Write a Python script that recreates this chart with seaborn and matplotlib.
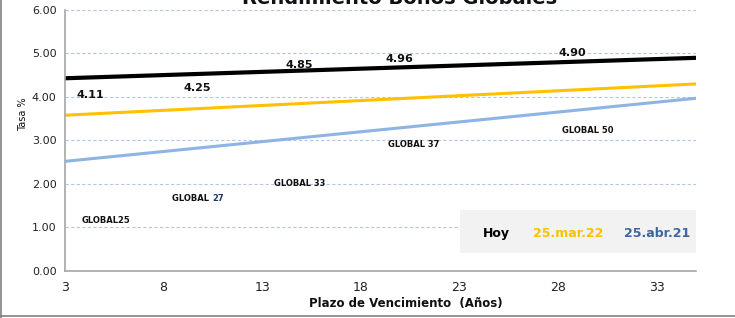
import matplotlib
matplotlib.use("Agg")
import matplotlib.pyplot as plt
from matplotlib.lines import Line2D
from matplotlib.patches import Rectangle
import seaborn as sns
import pandas as pd

# Trend lines (start / end of curve)
plazo = [3, 35]
hoy = [4.43, 4.90]
mar22 = [3.58, 4.30]
abr21 = [2.52, 3.97]

# Point labels
valor_labels = ["4.11", "4.25", "4.85", "4.96", "4.90"]
bono_labels = ["GLOBAL25", "GLOBAL 27", "GLOBAL 33", "GLOBAL 37", "GLOBAL 50"]
serie_names = ["Hoy", "25.mar.22", "25.abr.21"]

x_ticks = [3, 8, 13, 18, 23, 28, 33]
y_ticks = [0, 1, 2, 3, 4, 5, 6]

# layout only
valor_pos = [(4.3, 4.04), (9.7, 4.20), (14.9, 4.73), (19.95, 4.87), (28.75, 5.01)]
bono_pos = [(5.1, 1.15), (8.45, 1.66), (14.9, 2.01), (20.7, 2.91), (29.5, 3.23)]
leyenda_x = [24.9, 28.5, 33.05]

sns.set_style("white")
plt.rcParams["font.family"] = ["DejaVu Sans"]
plt.rcParams["text.color"] = "#111111"
plt.rcParams["xtick.color"] = "#222222"
plt.rcParams["ytick.color"] = "#222222"
plt.rcParams["axes.labelcolor"] = "#111111"

df = pd.concat([
    pd.DataFrame({"Plazo": plazo, "Tasa": hoy, "Serie": serie_names[0]}),
    pd.DataFrame({"Plazo": plazo, "Tasa": mar22, "Serie": serie_names[1]}),
    pd.DataFrame({"Plazo": plazo, "Tasa": abr21, "Serie": serie_names[2]}),
])
palette = {serie_names[0]: "#000000", serie_names[1]: "#FFC000", serie_names[2]: "#8EB4E3"}

fig = plt.figure(figsize=(7.35, 3.18), dpi=100)
ax = fig.add_axes([0.0884, 0.148, 0.8585, 0.8206])

# gridlines first so lines sit above
ax.set_axisbelow(True)
ax.yaxis.grid(True, linestyle=(0, (3, 2)), color="#B4C7E7", linewidth=0.8)

sns.lineplot(data=df, x="Plazo", y="Tasa", hue="Serie", palette=palette,
             legend=False, ax=ax, linewidth=2.2)
for ln in ax.get_lines():
    if ln.get_color() in ("#000000", "k"):
        ln.set_linewidth(3)

ax.set_xlim(3, 35)
ax.set_ylim(0, 6)
ax.set_xticks(x_ticks)
ax.set_yticks(y_ticks)
ax.set_yticklabels([f"{v:.2f}" for v in y_ticks], fontsize=8)
ax.set_xticklabels([str(v) for v in x_ticks], fontsize=9)
ax.tick_params(axis="y", length=0, pad=6)
ax.tick_params(axis="x", length=0, pad=7)

for side in ["top", "right"]:
    ax.spines[side].set_visible(False)
for side in ["left", "bottom"]:
    ax.spines[side].set_color("#A6A6A6")
    ax.spines[side].set_linewidth(1.2)

ax.set_ylabel("Tasa %", fontsize=7)
ax.yaxis.set_label_coords(-0.058, 0.6)
ax.set_xlabel("Plazo de Vencimiento  (Años)", fontsize=8.5, fontweight="bold")
ax.xaxis.set_label_coords(0.54, -0.10)

for txt, (px, py) in zip(valor_labels, valor_pos):
    ax.text(px, py, txt, ha="center", va="center", fontsize=8, fontweight="bold")

for txt, (px, py) in zip(bono_labels, bono_pos):
    if txt == "GLOBAL 27":
        t = ax.text(px, py, "GLOBAL ", ha="left", va="center", fontsize=6, fontweight="bold")
        ax.annotate("27", xy=(1, 0.5), xycoords=t, va="center", ha="left",
                    fontsize=6, fontweight="bold", color="#1F3864")
    else:
        ax.text(px, py, txt, ha="center", va="center", fontsize=6, fontweight="bold")

# legend box
ax.add_patch(Rectangle((0.626, 0.069), 0.374, 0.166, transform=ax.transAxes,
                       facecolor="#F2F2F2", edgecolor="none", zorder=1))
for name, lx, col in zip(serie_names, leyenda_x, ["#000000", "#FFC000", "#3E66A0"]):
    ax.text(lx, 0.85, name, ha="center", va="center", fontsize=9,
            fontweight="bold", color=col, zorder=3)

fig.text(0.544, 0.988, "Rendimiento Bonos Globales", ha="center", va="baseline",
         fontsize=14, fontweight="bold")

# outer frame (left and bottom)
fig.add_artist(Line2D([0.002, 0.002], [0, 1], transform=fig.transFigure,
                      color="#808080", linewidth=1.2))
fig.add_artist(Line2D([0, 1], [0.006, 0.006], transform=fig.transFigure,
                      color="#808080", linewidth=1.2))

fig.savefig("out.png", dpi=100)
